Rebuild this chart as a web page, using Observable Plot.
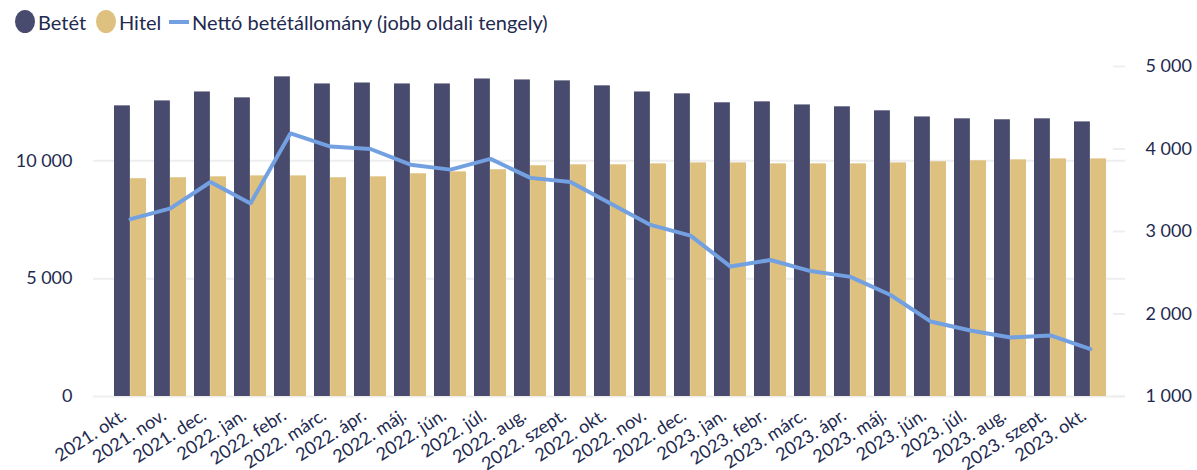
<!DOCTYPE html>
<html>
<head>
<meta charset="utf-8">
<script src="https://cdn.jsdelivr.net/npm/d3@7"></script>
<script src="https://cdn.jsdelivr.net/npm/@observablehq/plot@0.6"></script>
<style>
  html, body { margin: 0; padding: 0; background: #fff; }
  body { width: 1197px; height: 470px; overflow: hidden; font-family: Lato, "Open Sans", sans-serif; color: #232a50; }
  #legend { height: 40px; position: relative; font-size: 20px; }
  .sw { position: absolute; }
  .lt { position: absolute; top: 22px; transform: translateY(-50%); line-height: 1; white-space: nowrap; }
  svg { display: block; }
</style>
</head>
<body>
<div id="legend"></div>
<div id="chart"></div>
<script>
const months = ["2021. okt.","2021. nov.","2021. dec.","2022. jan.","2022. febr.","2022. márc.","2022. ápr.","2022. máj.","2022. jún.","2022. júl.","2022. aug.","2022. szept.","2022. okt.","2022. nov.","2022. dec.","2023. jan.","2023. febr.","2023. márc.","2023. ápr.","2023. máj.","2023. jún.","2023. júl.","2023. aug.","2023. szept.","2023. okt."];
const betet = [12330,12540,12920,12670,13560,13260,13300,13260,13260,13470,13430,13390,13180,12920,12840,12460,12500,12370,12290,12120,11860,11780,11740,11780,11650];
const hitel = [9240,9280,9320,9360,9360,9280,9320,9450,9530,9620,9790,9830,9830,9870,9910,9910,9870,9870,9870,9910,9960,10000,10040,10080,10080];
const netto = [3150,3280,3600,3340,4190,4030,4000,3810,3750,3880,3650,3600,3340,3080,2950,2575,2655,2520,2450,2230,1910,1800,1715,1740,1575];
const leftTicks = [0,5000,10000];
const rightTicks = [1000,2000,3000,4000,5000];
const seriesNames = ["Betét","Hitel","Nettó betétállomány (jobb oldali tengely)"];
const colors = ["#484a6e","#dfc17f","#72a0e1"];

const fmt = v => d3.format(",")(v).replace(/,/g, " ");
const toLeft = v => (v - 1000) * 3.5;

// legend
const legend = document.getElementById("legend");
const swatchX = [15, 96, 169];
const textX = [38, 119, 192];
seriesNames.forEach((name, i) => {
  const sw = document.createElement("div");
  sw.className = "sw";
  sw.style.left = swatchX[i] + "px";
  sw.style.background = colors[i];
  if (i < 2) {
    sw.style.width = "20px"; sw.style.height = "23px"; sw.style.top = "10px"; sw.style.borderRadius = "50%";
  } else {
    sw.style.width = "20px"; sw.style.height = "4px"; sw.style.top = "20px";
  }
  legend.appendChild(sw);
  const t = document.createElement("div");
  t.className = "lt";
  t.style.left = textX[i] + "px";
  t.textContent = name;
  legend.appendChild(t);
});

const data = months.map((m, i) => ({m, betet: betet[i], hitel: hitel[i], netto: netto[i]}));
const textColor = "#232a50";

const plot = Plot.plot({
  width: 1197,
  height: 430,
  marginLeft: 106,
  marginRight: 84,
  marginTop: 26,
  marginBottom: 74,
  style: {fontFamily: "Lato, 'Open Sans', sans-serif", fontSize: "18px", color: textColor, background: "#fff", overflow: "visible"},
  x: {type: "band", domain: months, paddingInner: 0.2, paddingOuter: 0.1, axis: null},
  y: {domain: [0, 14000], axis: null},
  marks: [
    Plot.ruleY(leftTicks, {stroke: "#eeeeee", strokeWidth: 2, insetLeft: -13, insetRight: -12}),
    Plot.ruleY(rightTicks.map(toLeft), {stroke: "#eeeeee", strokeWidth: 2, insetLeft: 1007, insetRight: -12}),
    Plot.barY(data, {x: "m", y: "betet", fill: colors[0], insetRight: 16.12}),
    Plot.barY(data, {x: "m", y: "hitel", fill: colors[1], insetLeft: 16.12}),
    Plot.line(data, {x: "m", y: d => toLeft(d.netto), stroke: colors[2], strokeWidth: 4, strokeLinejoin: "miter"}),
    Plot.axisY({anchor: "left", ticks: leftTicks, tickFormat: fmt, tickSize: 0, tickPadding: 34, fill: textColor, fontSize: 18}),
    Plot.axisY({anchor: "right", ticks: rightTicks.map(toLeft), tickFormat: d => fmt(Math.round(d / 3.5 + 1000)), tickSize: 0, tickPadding: 32, fill: textColor, fontSize: 18}),
    Plot.text(months, {x: d => d, frameAnchor: "bottom", rotate: -33, textAnchor: "end", lineAnchor: "middle", dy: 17, dx: -6, fill: textColor, fontSize: 18})
  ]
});
document.getElementById("chart").appendChild(plot);
</script>
</body>
</html>
